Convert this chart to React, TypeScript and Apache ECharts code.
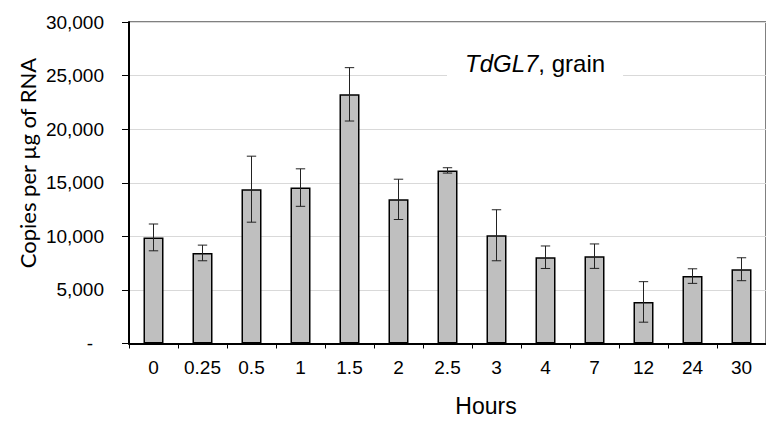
import React, { useEffect, useRef } from "react";
import * as echarts from "echarts";

const hours = ["0", "0.25", "0.5", "1", "1.5", "2", "2.5", "3", "4", "7", "12", "24", "30"];
const means = [9900, 8450, 14400, 14550, 23250, 13450, 16150, 10100, 8050, 8150, 3880, 6290, 6930];
const errors = [1250, 730, 3080, 1750, 2490, 1880, 250, 2380, 1050, 1140, 1890, 680, 1070];
const yTicks = [0, 5000, 10000, 15000, 20000, 25000, 30000];

const SANS = "'Liberation Sans', Arial, sans-serif";

export default function App() {
  const ref = useRef<HTMLDivElement>(null);
  useEffect(() => {
    document.body.style.margin = "0";
    const chart = echarts.init(ref.current!, null, { renderer: "svg" });
    const errData = hours.map((_, i) => [i, means[i], means[i] + errors[i], means[i] - errors[i]]);
    chart.setOption({
      animation: false,
      backgroundColor: "#fff",
      title: {
        text: "{i|TdGL7}{n|, grain}",
        left: 447,
        top: 45,
        padding: [6, 18, 6, 18],
        backgroundColor: "#fff",
        textStyle: {
          fontWeight: "normal",
          rich: {
            i: { fontStyle: "italic", fontWeight: "normal", fontSize: 24, fontFamily: SANS, color: "#000" },
            n: { fontWeight: "normal", fontSize: 24, fontFamily: SANS, color: "#000" },
          },
        },
      },
      grid: {
        left: 129,
        top: 22,
        width: 646,
        height: 321.5,
        show: true,
        borderColor: "#000",
        borderWidth: 1,
        backgroundColor: "transparent",
      },
      xAxis: {
        type: "category",
        data: hours,
        axisLine: { lineStyle: { color: "#000", width: 2 } },
        axisTick: { show: true, length: 5, lineStyle: { color: "#000", width: 1 } },
        axisLabel: { color: "#000", fontSize: 19, fontFamily: SANS, margin: 14 },
      },
      yAxis: {
        type: "value",
        min: yTicks[0],
        max: yTicks[yTicks.length - 1],
        interval: 5000,
        axisLine: { show: true, lineStyle: { color: "#000", width: 2 } },
        axisTick: { show: true, length: 7, lineStyle: { color: "#000", width: 1 } },
        splitLine: { show: true, lineStyle: { color: "#d9d9d9", width: 1 } },
        axisLabel: {
          color: "#000",
          fontSize: 19,
          fontFamily: SANS,
          margin: 25,
          formatter: (v: number) => (v === 0 ? "{d|-}" : v.toLocaleString("en-US")),
          rich: { d: { padding: [0, 11, 0, 0], fontSize: 19, fontFamily: SANS, color: "#000" } },
        },
      },
      graphic: [
        {
          type: "text",
          x: 27,
          y: 163,
          rotation: Math.PI / 2,
          style: {
            text: "Copies per µg of RNA",
            font: "22px Lato, 'Open Sans', sans-serif",
            fill: "#000",
            align: "center",
            verticalAlign: "middle",
          },
        },
        {
          type: "text",
          x: 486,
          y: 406,
          style: {
            text: "Hours",
            font: "23px 'Liberation Sans', Arial, sans-serif",
            fill: "#000",
            align: "center",
            verticalAlign: "middle",
          },
        },
      ],
      series: [
        {
          type: "bar",
          data: means,
          barWidth: 20,
          itemStyle: { color: "#bfbfbf", borderColor: "#000", borderWidth: 1.5 },
          z: 2,
        },
        {
          type: "custom",
          data: errData,
          z: 3,
          renderItem: (params: any, api: any) => {
            const i = api.value(0);
            const hi = api.coord([i, api.value(2)]);
            const lo = api.coord([i, api.value(3)]);
            const hw = 4.7;
            const style = { stroke: "#222", lineWidth: 1 };
            return {
              type: "group",
              children: [
                { type: "line", shape: { x1: hi[0], y1: hi[1], x2: lo[0], y2: lo[1] }, style },
                { type: "line", shape: { x1: hi[0] - hw, y1: hi[1], x2: hi[0] + hw, y2: hi[1] }, style },
                { type: "line", shape: { x1: lo[0] - hw, y1: lo[1], x2: lo[0] + hw, y2: lo[1] }, style },
              ],
            };
          },
        },
      ],
    });
    return () => chart.dispose();
  }, []);
  return <div ref={ref} style={{ width: 766, height: 421 }} />;
}
